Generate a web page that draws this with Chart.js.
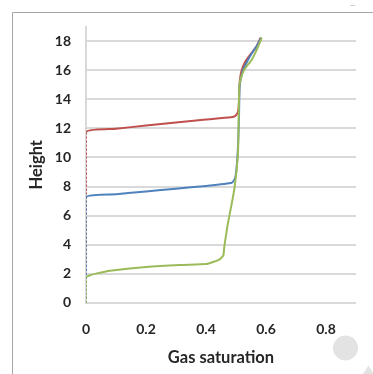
<!DOCTYPE html>
<html>
<head>
<meta charset="utf-8">
<script src="https://cdn.jsdelivr.net/npm/chart.js@4.4.1/dist/chart.umd.min.js"></script>
<style>
html,body{margin:0;padding:0;background:#fff;}
#wrap{width:373px;height:374px;position:relative;}
</style>
</head>
<body>
<div id="wrap"><canvas id="c" width="373" height="374"></canvas></div>
<script>
// Data (x = gas saturation, y = height)
const redX   = [0, 0, 0.1, 0.2, 0.3, 0.4, 0.483, 0.497, 0.506, 0.509, 0.510, 0.511, 0.514, 0.519, 0.526, 0.536, 0.552, 0.567, 0.582];
const redY   = [0, 11.73, 11.98, 12.2, 12.41, 12.61, 12.77, 12.85, 13.1, 13.5, 14.0, 14.8, 15.5, 16.0, 16.4, 16.76, 17.2, 17.6, 18.25];
const blueX  = [0, 0, 0.1, 0.2, 0.3, 0.4, 0.486, 0.497, 0.502, 0.506, 0.508, 0.510, 0.511, 0.512, 0.517, 0.523, 0.532, 0.545, 0.56, 0.573, 0.584];
const blueY  = [0, 7.26, 7.47, 7.66, 7.85, 8.04, 8.26, 8.57, 9.3, 10.5, 11.5, 12.8, 14.0, 14.9, 15.5, 16.0, 16.4, 16.9, 17.4, 17.8, 18.25];
const greenX = [0, 0, 0.015, 0.036, 0.08, 0.2, 0.313, 0.4, 0.424, 0.447, 0.458, 0.461, 0.472, 0.486, 0.494, 0.502, 0.507, 0.509, 0.511, 0.516, 0.527, 0.552, 0.569, 0.586];
const greenY = [0, 1.75, 1.9, 2.02, 2.2, 2.46, 2.6, 2.66, 2.8, 3.0, 3.28, 3.86, 5.35, 6.85, 7.76, 9.14, 10.5, 12.8, 14.88, 15.45, 16.03, 16.72, 17.41, 18.25];
const xTickValues = [0, 0.2, 0.4, 0.6, 0.8];
const yTickValues = [0, 2, 4, 6, 8, 10, 12, 14, 16, 18];
const xTitle = 'Gas saturation';
const yTitle = 'Height';

const pts = (xs, ys) => xs.map((x, i) => ({x: x, y: ys[i]}));
const dashAtZero = ctx => (ctx.p0.parsed.x === 0 && ctx.p1.parsed.x === 0) ? [2, 2] : undefined;

function mkSet(label, xs, ys, color) {
  return {
    label: label, data: pts(xs, ys), borderColor: color, backgroundColor: color,
    borderWidth: 2, pointRadius: 0, tension: 0.15, fill: false,
    segment: { borderDash: dashAtZero }
  };
}

const deco = {
  id: 'deco',
  beforeDraw(chart) {
    const c = chart.ctx;
    c.save();
    c.fillStyle = '#fff';
    c.fillRect(0, 0, chart.width, chart.height);
    c.restore();
  },
  afterDraw(chart) {
    const c = chart.ctx;
    c.save();
    c.strokeStyle = '#a6a6a6';
    c.lineWidth = 1;
    c.beginPath();
    c.moveTo(12.5, 374); c.lineTo(12.5, 12.5); c.lineTo(373, 12.5);
    c.stroke();
    c.fillStyle = '#e3e3e3';
    c.beginPath(); c.arc(345.5, 348, 12.5, 0, Math.PI * 2); c.fill();
    c.beginPath(); c.moveTo(368.5, 365.5); c.lineTo(374, 374); c.lineTo(363, 374); c.closePath(); c.fill();
    c.fillStyle = '#d0d0d0';
    c.fillRect(350, 5, 5, 1);
    c.restore();
  }
};

const fontTick = {family: 'Lato', size: 14, weight: 'bold'};
const fontTitle = {family: 'Lato', size: 16.5, weight: 'bold'};

function draw() {
new Chart(document.getElementById('c'), {
  type: 'line',
  data: { datasets: [
    mkSet('Green', greenX, greenY, '#9bbb59'),
    mkSet('Blue', blueX, blueY, '#4f81bd'),
    mkSet('Red', redX, redY, '#c0504d')
  ]},
  options: {
    responsive: false, animation: false, devicePixelRatio: 1,
    layout: { padding: { top: 26.8, right: 17, left: 0, bottom: 0 } },
    plugins: { legend: { display: false }, tooltip: { enabled: false } },
    scales: {
      x: {
        type: 'linear', min: 0, max: 0.9,
        afterBuildTicks: s => { s.ticks = xTickValues.map(v => ({value: v})); },
        afterFit: s => { s.height = 374 - 302.7; },
        grid: { display: false, drawTicks: false },
        border: { display: false },
        ticks: { font: fontTick, color: '#262626', padding: 18, maxRotation: 0,
                 callback: v => v === 0 ? '0' : v.toFixed(1) },
        title: { display: true, text: xTitle, font: fontTitle, color: '#262626', padding: { top: 0, bottom: 6 } }
      },
      y: {
        type: 'linear', min: 0, max: 19,
        afterBuildTicks: s => { s.ticks = yTickValues.map(v => ({value: v})); },
        afterFit: s => { s.width = 86; },
        grid: { color: '#d9d9d9', lineWidth: 2, drawTicks: false },
        border: { display: true, color: '#d9d9d9', width: 2 },
        ticks: { font: fontTick, color: '#262626', padding: 15 },
        title: { display: true, text: yTitle, font: fontTitle, color: '#262626', padding: { top: 27, bottom: 0 } }
      }
    }
  },
  plugins: [deco]
});
}
if (document.fonts && document.fonts.load) {
  Promise.all([document.fonts.load('bold 14px Lato'), document.fonts.load('bold 16.5px Lato')]).then(draw, draw);
} else { draw(); }
</script>
</body>
</html>
